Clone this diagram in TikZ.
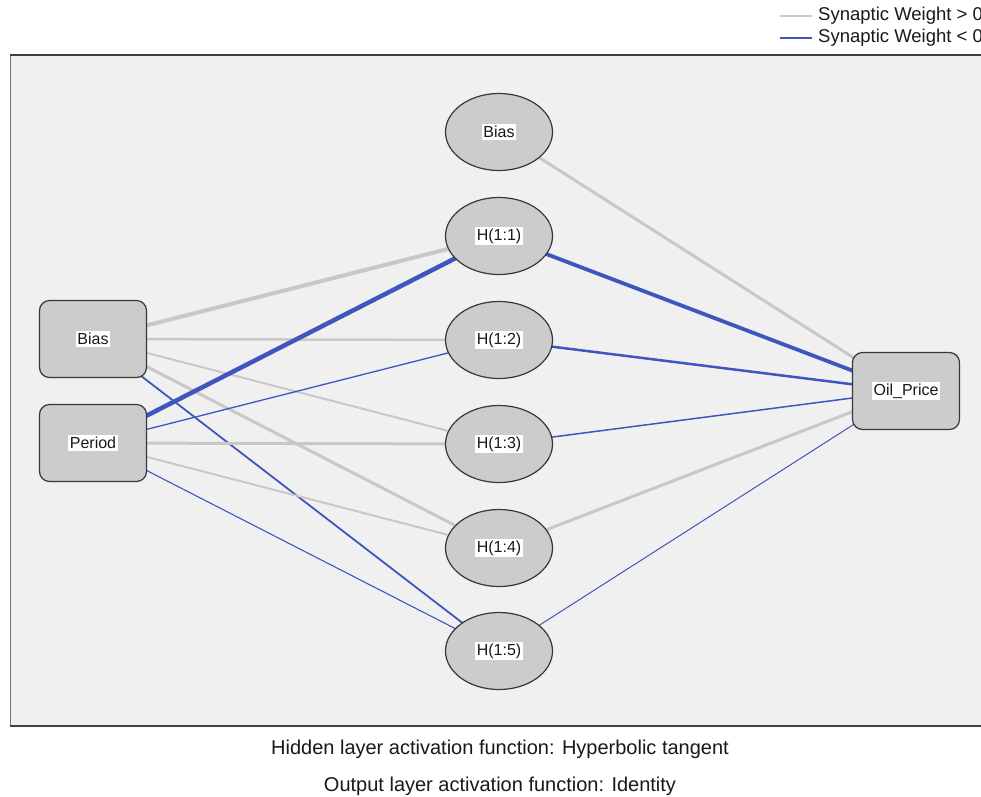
\documentclass[tikz,border=0pt]{standalone}
\usepackage{fontspec}
\setmainfont{Liberation Sans}
\usetikzlibrary{shapes.geometric}
\pgfdeclarelayer{bg}
\pgfdeclarelayer{links}
\pgfsetlayers{bg,links,main}
\definecolor{wpos}{RGB}{200,200,200}
\definecolor{wneg}{RGB}{62,86,190}
\definecolor{panel}{RGB}{240,240,240}
\definecolor{unit}{RGB}{204,204,204}
\definecolor{rim}{RGB}{55,55,55}
\definecolor{ink}{RGB}{25,25,25}
\begin{document}
\begin{tikzpicture}[x=1pt,y=-1pt,
  box/.style={draw=rim, fill=unit, line width=1.2pt, rounded corners=10pt,
    minimum width=107pt, minimum height=77pt, inner sep=0pt},
  neuron/.style={ellipse, draw=rim, fill=unit, line width=1.2pt,
    minimum width=107pt, minimum height=77pt, inner sep=0pt},
  tag/.style={fill=white, inner sep=1.8pt, text=ink, font=\fontsize{16}{19}\selectfont},
  poslink/.style={draw=wpos, line width=#1},
  neglink/.style={draw=wneg, line width=#1},
  note/.style={text=ink, font=\fontsize{18.5}{22}\selectfont},
  caption/.style={text=ink, font=\fontsize{20}{24}\selectfont}]
\useasboundingbox (0,0) rectangle (981,796);
\clip (0,0) rectangle (981,796);

% panel behind the network
\begin{pgfonlayer}{bg}
  \fill[white] (0,0) rectangle (981,796);
  \fill[panel] (10,55) rectangle (1000,726);
  \draw[black!55, line width=1.5pt] (10.5,55) -- (10.5,726);
  \draw[black!75, line width=2pt] (10,55) -- (1000,55);
  \draw[black!75, line width=2pt] (10,726) -- (1000,726);
\end{pgfonlayer}

% input layer
\node[box] (ib) at (93,339) {};
\node[box] (ip) at (93,443) {};
% hidden layer
\node[neuron] (hb) at (499,132) {};
\node[neuron] (h1) at (499,236) {};
\node[neuron] (h2) at (499,340) {};
\node[neuron] (h3) at (499,444) {};
\node[neuron] (h4) at (499,548) {};
\node[neuron] (h5) at (499,651) {};
% output layer
\node[box] (out) at (906,391) {};

% labels
\node[tag] at (ib) {Bias};
\node[tag] at (ip) {Period};
\node[tag] at (hb) {Bias};
\node[tag] at (h1) {H(1:1)};
\node[tag] at (h2) {H(1:2)};
\node[tag] at (h3) {H(1:3)};
\node[tag] at (h4) {H(1:4)};
\node[tag] at (h5) {H(1:5)};
\node[tag] at (out) {Oil\_Price};

% synaptic weights
\begin{pgfonlayer}{links}
  \draw[poslink=4pt]   (ib.center) -- (h1.center);
  \draw[poslink=2.5pt] (ib.center) -- (h2.center);
  \draw[poslink=2pt]   (ib.center) -- (h3.center);
  \draw[poslink=3pt]   (ib.center) -- (h4.center);
  \draw[neglink=1.8pt] (ib.center) -- (h5.center);
  \draw[neglink=4.5pt] (ip.center) -- (h1.center);
  \draw[neglink=1.3pt] (ip.center) -- (h2.center);
  \draw[poslink=3pt]   (ip.center) -- (h3.center);
  \draw[poslink=2pt]   (ip.center) -- (h4.center);
  \draw[neglink=1.1pt] (ip.center) -- (h5.center);
  \draw[poslink=3pt]   (hb.center) -- (out.center);
  \draw[neglink=3.8pt] (h1.center) -- (out.center);
  \draw[neglink=2.5pt] (h2.center) -- (out.center);
  \draw[neglink=1.5pt] (h3.center) -- (out.center);
  \draw[poslink=3pt]   (h4.center) -- (out.center);
  \draw[neglink=1pt]   (h5.center) -- (out.center);
\end{pgfonlayer}

% legend
\coordinate (la) at (780,16);
\coordinate (lb) at (812,16);
\coordinate (lc) at (780,38);
\coordinate (ld) at (812,38);
\draw[wpos, line width=1.2pt] (la) -- (lb);
\draw[wneg, line width=1.2pt] (lc) -- (ld);
\node[note, anchor=west, inner sep=0pt] at (818,16) {Synaptic Weight > 0};
\node[note, anchor=west, inner sep=0pt] at (818,38) {Synaptic Weight < 0};

% captions
\node[caption] (cap1) at (500,749) {Hidden layer activation function: Hyperbolic tangent};
\node[caption] (cap2) at (500,786) {Output layer activation function: Identity};
\end{tikzpicture}
\end{document}
